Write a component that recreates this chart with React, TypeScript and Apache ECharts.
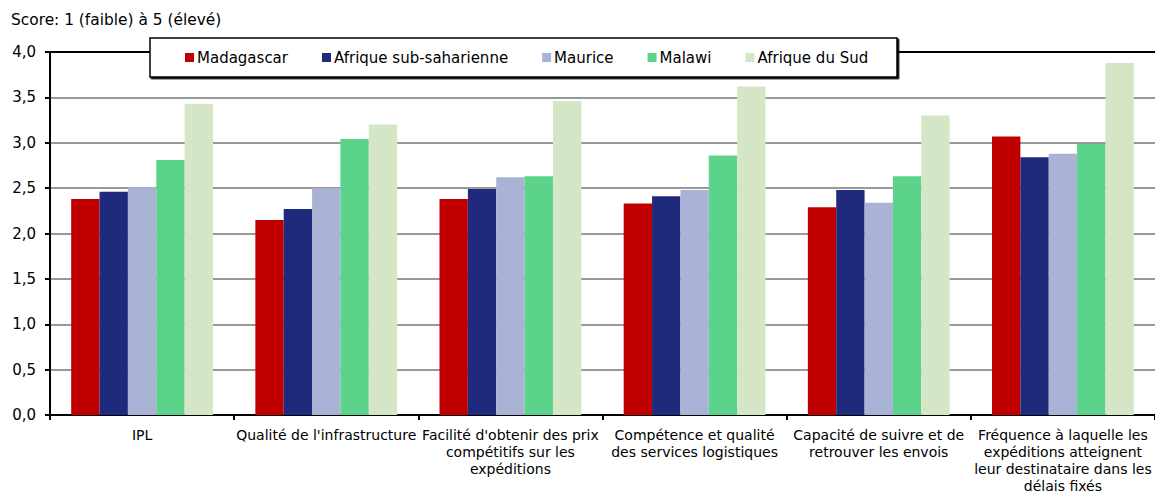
import React, { useEffect, useRef } from "react";
import * as echarts from "echarts";

const categories = [
  "IPL",
  "Qualité de l'infrastructure",
  "Facilité d'obtenir des prix\ncompétitifs sur les\nexpéditions",
  "Compétence et qualité\ndes services logistiques",
  "Capacité de suivre et de\nretrouver les envois",
  "Fréquence à laquelle les\nexpéditions atteignent\nleur destinataire dans les\ndélais fixés",
];

const seriesNames = ["Madagascar", "Afrique sub-saharienne", "Maurice", "Malawi", "Afrique du Sud"];
const madagascar = [2.38, 2.15, 2.38, 2.33, 2.29, 3.07];
const afriqueSubsaharienne = [2.46, 2.27, 2.49, 2.41, 2.48, 2.84];
const maurice = [2.51, 2.5, 2.62, 2.48, 2.34, 2.88];
const malawi = [2.81, 3.04, 2.63, 2.86, 2.63, 2.99];
const afriqueDuSud = [3.43, 3.2, 3.46, 3.62, 3.3, 3.88];
const seriesValues = [madagascar, afriqueSubsaharienne, maurice, malawi, afriqueDuSud];
const colors = ["#C00000", "#1F2A7C", "#A9B3D6", "#5CD38B", "#D4E6C5"];

const yTicks = [0, 0.5, 1, 1.5, 2, 2.5, 3, 3.5, 4];
const FONT = "DejaVu Sans";

export default function App() {
  const ref = useRef<HTMLDivElement>(null);
  useEffect(() => {
    if (!ref.current) return;
    document.documentElement.style.overflow = "hidden";
    document.body.style.margin = "0";
    document.body.style.overflow = "hidden";
    const chart = echarts.init(ref.current, null, { renderer: "svg" });
    chart.setOption({
      animation: false,
      backgroundColor: "#fff",
      textStyle: { fontFamily: FONT },
      graphic: [
        {
          type: "text",
          left: 11,
          top: 12,
          style: { text: "Score: 1 (faible) à 5 (élevé)", font: `15.4px ${FONT}`, fill: "#000" },
        },
        {
          type: "rect",
          z: 5,
          shape: { x: 150, y: 38, width: 747, height: 39 },
          style: {
            fill: "#fff",
            stroke: "#000",
            lineWidth: 1.5,
            shadowColor: "#000",
            shadowOffsetX: 1.5,
            shadowOffsetY: 1.5,
            shadowBlur: 0,
          },
        },
      ],
      legend: {
        left: 185,
        top: 50,
        z: 10,
        padding: 0,
        itemWidth: 9,
        itemHeight: 9,
        itemGap: 34,
        icon: "rect",
        textStyle: { fontSize: 15, color: "#000", fontFamily: FONT, padding: [0, 0, 0, -2] },
        data: seriesNames,
      },
      grid: { left: 50, top: 52, width: 1113, height: 368, containLabel: false },
      xAxis: [
        {
          type: "category",
          data: categories,
          axisLine: { lineStyle: { color: "#000", width: 2 } },
          axisTick: { show: true, length: 5, lineStyle: { color: "#000", width: 2 } },
          axisLabel: {
            interval: 0,
            margin: 11,
            fontSize: 14,
            lineHeight: 17,
            color: "#000",
            fontFamily: FONT,
          },
        },
        {
          type: "category",
          position: "top",
          data: categories,
          axisLine: { show: true, lineStyle: { color: "#000", width: 2 } },
          axisTick: { show: false },
          axisLabel: { show: false },
        },
      ],
      yAxis: {
        type: "value",
        min: yTicks[0],
        max: yTicks[yTicks.length - 1],
        interval: 0.5,
        axisLine: { show: true, lineStyle: { color: "#000", width: 2 } },
        axisTick: { show: true, length: 5, lineStyle: { color: "#000", width: 2 } },
        axisLabel: {
          margin: 14,
          fontSize: 15,
          color: "#000",
          fontFamily: FONT,
          formatter: (v: number) => v.toFixed(1).replace(".", ","),
        },
        splitLine: { show: true, lineStyle: { color: "#999", width: 2 } },
      },
      series: seriesNames.map((name, i) => ({
        name,
        type: "bar",
        data: seriesValues[i],
        barGap: "0%",
        barCategoryGap: "23%",
        itemStyle: { color: colors[i] },
      })),
    });
    return () => chart.dispose();
  }, []);
  return (
    <div
      ref={ref}
      style={{ position: "fixed", left: 0, top: 0, width: 1155, height: 494, overflow: "hidden" }}
    />
  );
}
